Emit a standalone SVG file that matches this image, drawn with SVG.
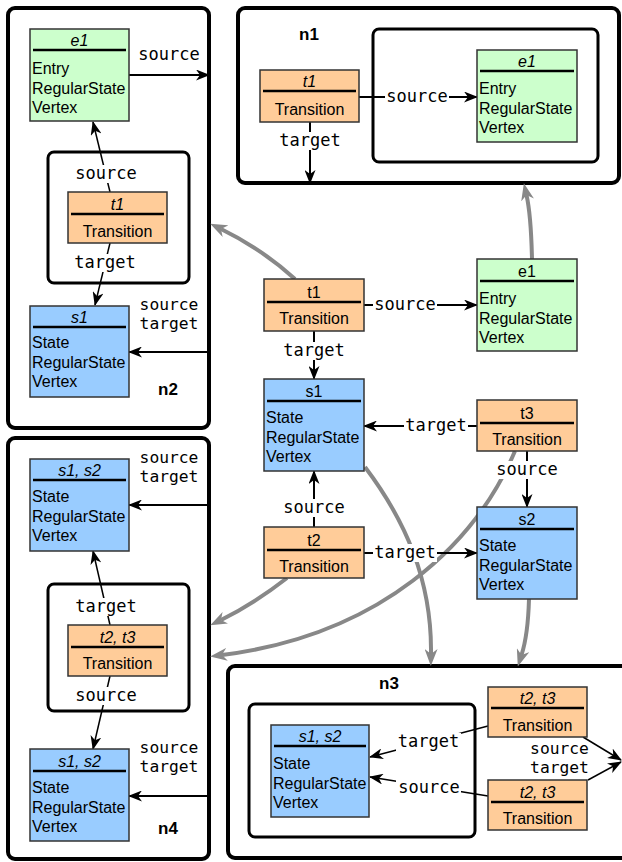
<svg xmlns="http://www.w3.org/2000/svg" width="622" height="862" viewBox="0 0 622 862">
<style>
.outer{fill:none;stroke:#000;stroke-width:4}
.inner{fill:none;stroke:#000;stroke-width:3}
.ent{stroke:#333;stroke-width:1.5}
.green{fill:#ccffcc}.orange{fill:#ffcc99}.blue{fill:#99ccff}
.hl{stroke:#000;stroke-width:2.5}
.name{font-family:"Liberation Sans",Arial,sans-serif;font-size:16px;text-anchor:middle;fill:#000}
.it{font-style:italic}
.body{font-family:"Liberation Sans",Arial,sans-serif;font-size:16px;fill:#000}
.title{font-family:"Liberation Sans",Arial,sans-serif;font-size:17px;font-weight:bold;text-anchor:middle}
.lbl{font-family:"DejaVu Sans Mono",monospace;font-size:17px;text-anchor:middle;fill:#000}
.st{font-size:16.3px}
.bg{fill:#fff}
.conn{stroke:#000;stroke-width:2;fill:none;marker-end:url(#ah)}
.thin{stroke-width:1.5}
.gray{stroke:#888;stroke-width:4;fill:none;marker-end:url(#gh)}
</style>
<defs>
<marker id="ah" markerUnits="userSpaceOnUse" markerWidth="14" markerHeight="11" viewBox="0 0 14 11" refX="13" refY="5.5" orient="auto"><path d="M0,0 L14,5.5 L0,11 L4,5.5 z" fill="#000"/></marker>
<marker id="gh" markerUnits="userSpaceOnUse" markerWidth="17" markerHeight="13" viewBox="0 0 17 13" refX="5" refY="6.5" orient="auto"><path d="M0,0 L17,6.5 L0,13 L5,6.5 z" fill="#888"/></marker>
</defs>

<!-- containers -->
<g id="n1">
<rect class="outer" x="238" y="8" width="381" height="175" rx="7"/>
<rect class="inner" x="373" y="29" width="225" height="133" rx="6"/>
<text class="title" x="309" y="40">n1</text>
</g>
<g id="n2">
<rect class="outer" x="8" y="8" width="201" height="420" rx="7"/>
<rect class="inner" x="48" y="152" width="141" height="131" rx="6"/>
<text class="title" x="168" y="395">n2</text>
</g>
<g id="n4">
<rect class="outer" x="8" y="438" width="201" height="421" rx="7"/>
<rect class="inner" x="48" y="584" width="141" height="127" rx="6"/>
<text class="title" x="168" y="834">n4</text>
</g>
<g id="n3">
<rect class="outer" x="228" y="666" width="404" height="192" rx="7"/>
<rect class="inner" x="249" y="704" width="226" height="133" rx="6"/>
<text class="title" x="389" y="689">n3</text>
</g>

<!-- gray connectors -->
<g id="gray-connectors">
<path class="gray" d="M295,279 Q262,249 221,229"/>
<path class="gray" d="M532,259 Q531,215 526.5,195"/>
<path class="gray" d="M365,467 C405,520 432,580 431,654"/>
<path class="gray" d="M529,599 Q528,635 521.5,655"/>
<path class="gray" d="M287,578 Q255,603 221,620"/>
<path class="gray" d="M515,451 C475,545 380,635 222,655"/>
</g>

<!-- black connectors -->
<g id="connectors">
<!-- central -->
<line class="conn" x1="364" y1="305" x2="477" y2="305"/>
<rect class="bg" x="373" y="296" width="64" height="18"/><text class="lbl" x="405" y="310">source</text>
<line class="conn" x1="314" y1="331" x2="314" y2="379"/>
<rect class="bg" x="282" y="342" width="64" height="18"/><text class="lbl" x="314" y="356">target</text>
<line class="conn" x1="477" y1="426" x2="364" y2="426"/>
<rect class="bg" x="404" y="417" width="64" height="18"/><text class="lbl" x="436" y="431">target</text>
<line class="conn" x1="527" y1="451" x2="527" y2="507"/>
<rect class="bg" x="495" y="461" width="64" height="18"/><text class="lbl" x="527" y="475">source</text>
<line class="conn" x1="314" y1="527" x2="314" y2="471"/>
<rect class="bg" x="282" y="499" width="64" height="18"/><text class="lbl" x="314" y="513">source</text>
<line class="conn" x1="364" y1="553" x2="477" y2="553"/>
<rect class="bg" x="373" y="544" width="64" height="18"/><text class="lbl" x="405" y="558">target</text>
<!-- n1 -->
<line class="conn" x1="359" y1="97" x2="477" y2="97"/>
<rect class="bg" x="385" y="88" width="64" height="18"/><text class="lbl" x="417" y="102">source</text>
<line class="conn" x1="310" y1="122" x2="310" y2="183"/>
<rect class="bg" x="278" y="132" width="64" height="18"/><text class="lbl" x="310" y="146">target</text>
<!-- n2 -->
<line class="conn" x1="129" y1="75" x2="209" y2="75"/>
<text class="lbl" x="169" y="60">source</text>
<line class="conn thin" x1="110" y1="192" x2="93" y2="122"/>
<rect class="bg" x="74" y="165" width="64" height="18"/><text class="lbl" x="106" y="179">source</text>
<line class="conn thin" x1="110" y1="243" x2="95" y2="305"/>
<rect class="bg" x="73" y="254" width="64" height="18"/><text class="lbl" x="105" y="268">target</text>
<line class="conn" x1="209" y1="352" x2="129" y2="352"/>
<text class="lbl st" x="169" y="309.5">source</text>
<text class="lbl st" x="169" y="328.5">target</text>
<!-- n4 -->
<line class="conn" x1="209" y1="505" x2="129" y2="505"/>
<text class="lbl st" x="169" y="463">source</text>
<text class="lbl st" x="169" y="482">target</text>
<line class="conn thin" x1="110" y1="625" x2="93" y2="551"/>
<rect class="bg" x="74" y="598" width="64" height="18"/><text class="lbl" x="106" y="612">target</text>
<line class="conn thin" x1="110" y1="676" x2="93" y2="749"/>
<rect class="bg" x="74" y="687" width="64" height="18"/><text class="lbl" x="106" y="701">source</text>
<line class="conn" x1="209" y1="796" x2="129" y2="796"/>
<text class="lbl st" x="169" y="753">source</text>
<text class="lbl st" x="169" y="772">target</text>
<!-- n3 -->
<line class="conn thin" x1="488" y1="726" x2="370" y2="757"/>
<rect class="bg" x="396" y="733" width="65" height="18"/><text class="lbl" x="428.5" y="747">target</text>
<line class="conn thin" x1="488" y1="796" x2="370" y2="777"/>
<rect class="bg" x="396" y="779" width="65" height="18"/><text class="lbl" x="429" y="793">source</text>
<line class="conn thin" x1="583" y1="737" x2="621" y2="760"/>
<line class="conn thin" x1="588" y1="780" x2="621" y2="762"/>
<text class="lbl st" x="559.5" y="753.5">source</text>
<text class="lbl st" x="559.5" y="772.5">target</text>
</g>

<!-- central nodes -->
<g id="c-t1"><rect class="ent orange" x="264" y="279" width="100" height="52"/><line class="hl" x1="267" y1="302" x2="361" y2="302"/><text class="name" x="314" y="298">t1</text><text class="name" x="314" y="324">Transition</text></g>
<g id="c-e1"><rect class="ent green" x="477" y="259" width="100" height="92"/><line class="hl" x1="480" y1="281" x2="574" y2="281"/><text class="name" x="527" y="277">e1</text><text class="body" x="479" y="304">Entry<tspan x="479" dy="19.5">RegularState</tspan><tspan x="479" dy="19.5">Vertex</tspan></text></g>
<g id="c-s1"><rect class="ent blue" x="264" y="379" width="100" height="92"/><line class="hl" x1="267" y1="401" x2="361" y2="401"/><text class="name" x="314" y="397">s1</text><text class="body" x="266" y="423">State<tspan x="266" dy="19.5">RegularState</tspan><tspan x="266" dy="19.5">Vertex</tspan></text></g>
<g id="c-t3"><rect class="ent orange" x="477" y="400" width="100" height="51"/><line class="hl" x1="480" y1="423" x2="574" y2="423"/><text class="name" x="527" y="419">t3</text><text class="name" x="527" y="445">Transition</text></g>
<g id="c-t2"><rect class="ent orange" x="264" y="527" width="100" height="51"/><line class="hl" x1="267" y1="550" x2="361" y2="550"/><text class="name" x="314" y="546">t2</text><text class="name" x="314" y="572">Transition</text></g>
<g id="c-s2"><rect class="ent blue" x="477" y="507" width="100" height="92"/><line class="hl" x1="480" y1="529" x2="574" y2="529"/><text class="name" x="527" y="525">s2</text><text class="body" x="479" y="551">State<tspan x="479" dy="19.5">RegularState</tspan><tspan x="479" dy="19.5">Vertex</tspan></text></g>

<!-- n1 nodes -->
<g id="n1-t1"><rect class="ent orange" x="260" y="70" width="99" height="52"/><line class="hl" x1="263" y1="91" x2="356" y2="91"/><text class="name it" x="309.5" y="87">t1</text><text class="name" x="309.5" y="115">Transition</text></g>
<g id="n1-e1"><rect class="ent green" x="477" y="50" width="100" height="92"/><line class="hl" x1="480" y1="71" x2="574" y2="71"/><text class="name it" x="527" y="67">e1</text><text class="body" x="479" y="94">Entry<tspan x="479" dy="19.5">RegularState</tspan><tspan x="479" dy="19.5">Vertex</tspan></text></g>

<!-- n2 nodes -->
<g id="n2-e1"><rect class="ent green" x="30" y="29" width="99" height="92"/><line class="hl" x1="33" y1="50" x2="126" y2="50"/><text class="name it" x="79.5" y="46">e1</text><text class="body" x="32" y="74">Entry<tspan x="32" dy="19.5">RegularState</tspan><tspan x="32" dy="19.5">Vertex</tspan></text></g>
<g id="n2-t1"><rect class="ent orange" x="68" y="192" width="99" height="51"/><line class="hl" x1="71" y1="214" x2="164" y2="214"/><text class="name it" x="117.5" y="210">t1</text><text class="name" x="117.5" y="237">Transition</text></g>
<g id="n2-s1"><rect class="ent blue" x="30" y="306" width="99" height="91"/><line class="hl" x1="33" y1="327" x2="126" y2="327"/><text class="name it" x="79.5" y="323">s1</text><text class="body" x="32" y="348">State<tspan x="32" dy="19.5">RegularState</tspan><tspan x="32" dy="19.5">Vertex</tspan></text></g>

<!-- n4 nodes -->
<g id="n4-s12a"><rect class="ent blue" x="30" y="459" width="99" height="92"/><line class="hl" x1="33" y1="480" x2="126" y2="480"/><text class="name it" x="79.5" y="476">s1, s2</text><text class="body" x="32" y="502">State<tspan x="32" dy="19.5">RegularState</tspan><tspan x="32" dy="19.5">Vertex</tspan></text></g>
<g id="n4-t23"><rect class="ent orange" x="68" y="625" width="99" height="51"/><line class="hl" x1="71" y1="647" x2="164" y2="647"/><text class="name it" x="117.5" y="643">t2, t3</text><text class="name" x="117.5" y="669">Transition</text></g>
<g id="n4-s12b"><rect class="ent blue" x="30" y="749" width="99" height="92"/><line class="hl" x1="33" y1="771" x2="126" y2="771"/><text class="name it" x="79.5" y="767">s1, s2</text><text class="body" x="32" y="793">State<tspan x="32" dy="19.5">RegularState</tspan><tspan x="32" dy="19.5">Vertex</tspan></text></g>

<!-- n3 nodes -->
<g id="n3-s12"><rect class="ent blue" x="271" y="725" width="98" height="92"/><line class="hl" x1="274" y1="746" x2="366" y2="746"/><text class="name it" x="320" y="742">s1, s2</text><text class="body" x="273" y="769">State<tspan x="273" dy="19.5">RegularState</tspan><tspan x="273" dy="19.5">Vertex</tspan></text></g>
<g id="n3-t23a"><rect class="ent orange" x="488" y="687" width="99" height="50"/><line class="hl" x1="491" y1="708" x2="584" y2="708"/><text class="name it" x="537.5" y="704">t2, t3</text><text class="name" x="537.5" y="731">Transition</text></g>
<g id="n3-t23b"><rect class="ent orange" x="488" y="780" width="99" height="50"/><line class="hl" x1="491" y1="802" x2="584" y2="802"/><text class="name it" x="537.5" y="798">t2, t3</text><text class="name" x="537.5" y="824">Transition</text></g>
</svg>
